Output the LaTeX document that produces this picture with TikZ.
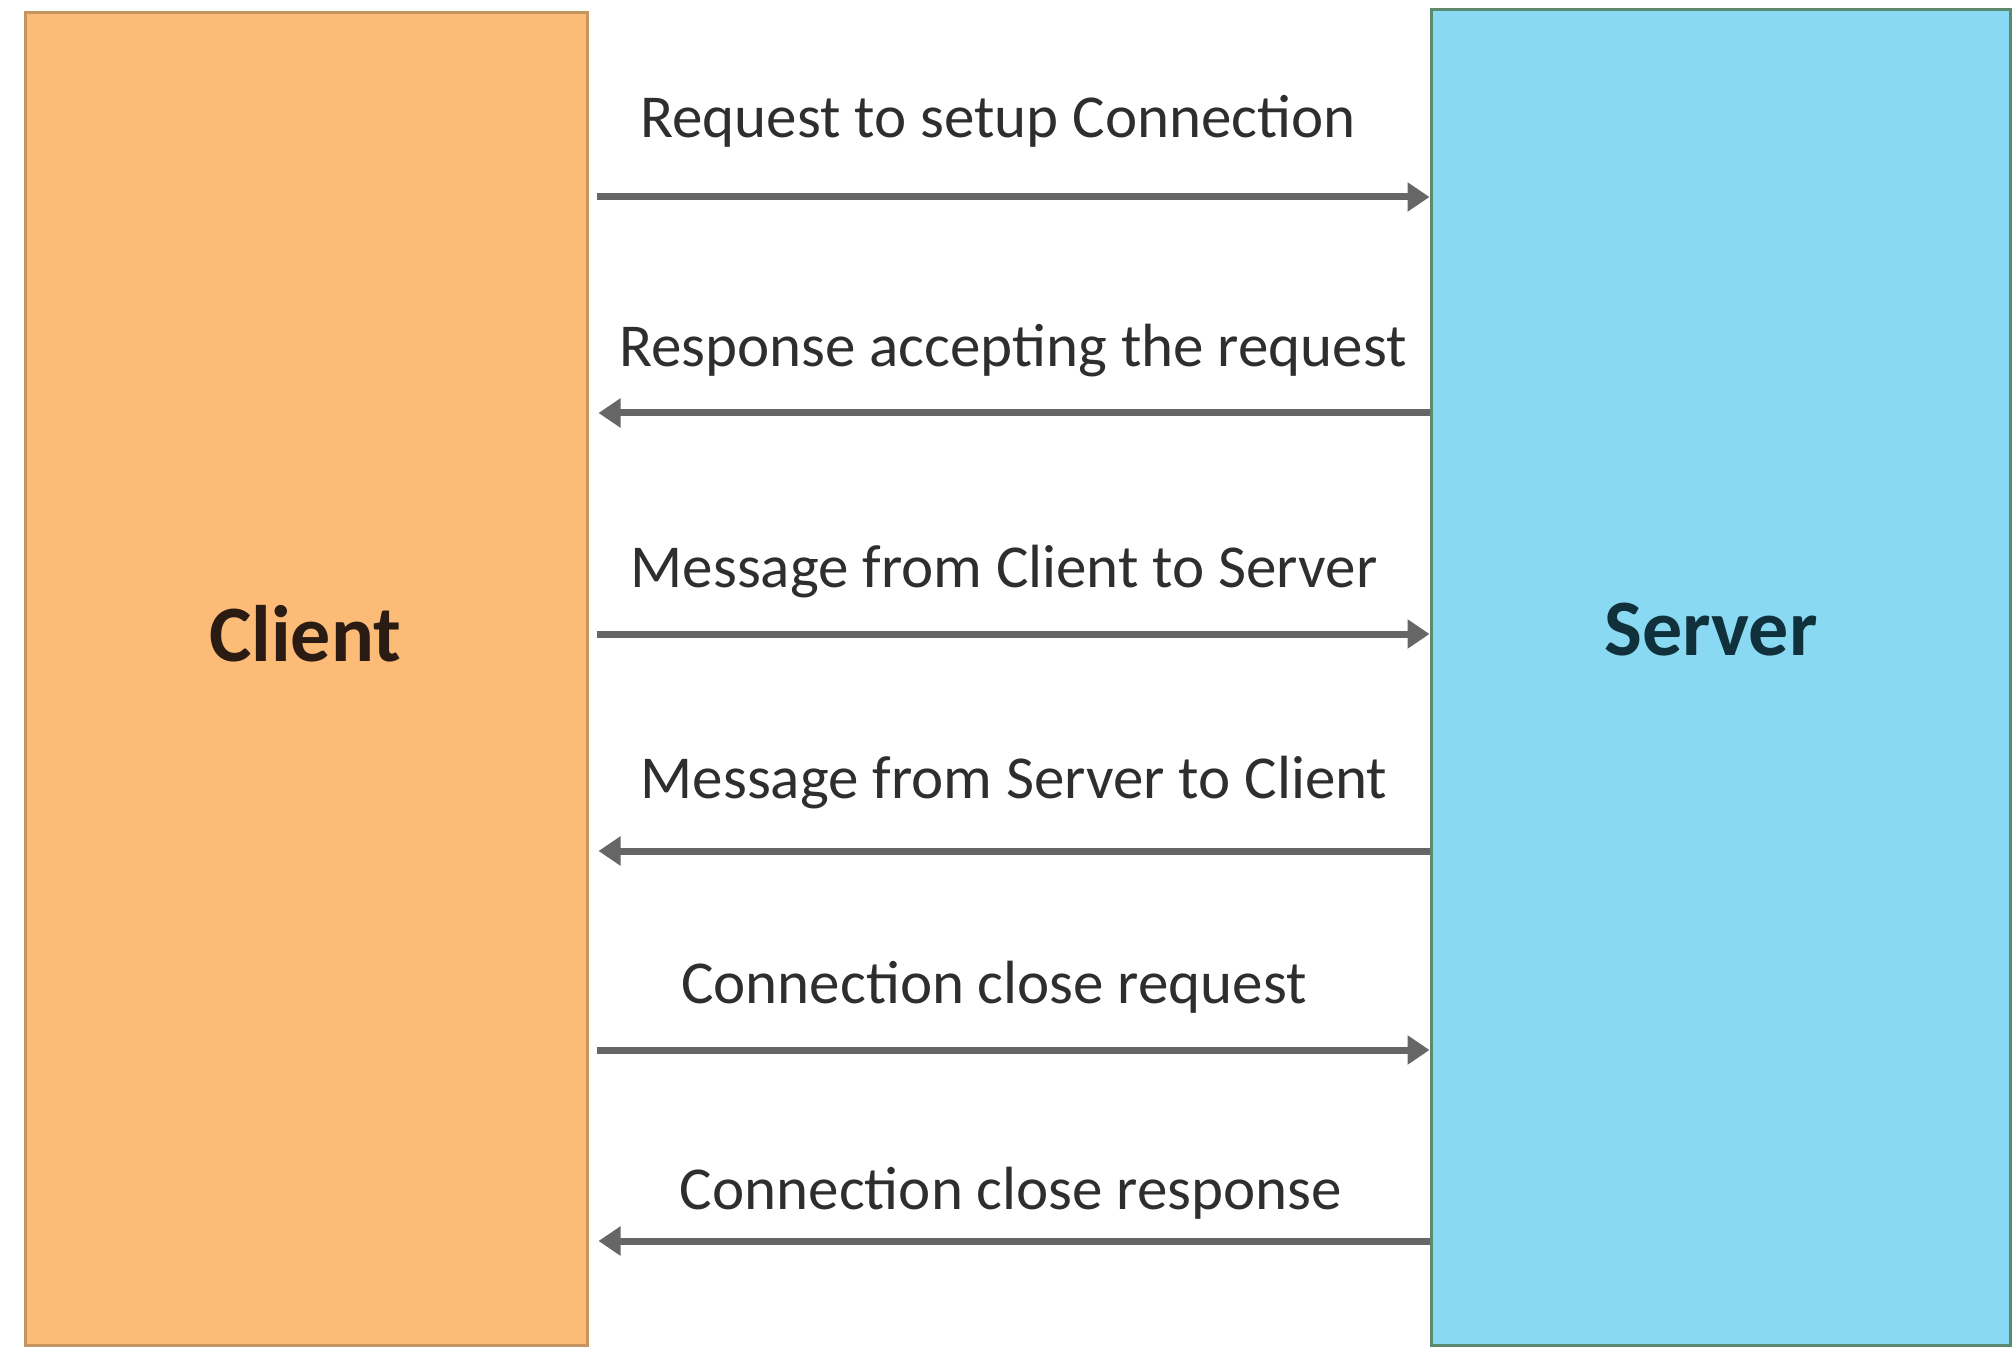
\documentclass[tikz,border=0pt]{standalone}
\usepackage{fontspec}
\setmainfont{Carlito}
\usetikzlibrary{arrows.meta}
\definecolor{cfill}{HTML}{FCBB77}
\definecolor{cdraw}{HTML}{C4955E}
\definecolor{sfill}{HTML}{8AD9F3}
\definecolor{sdraw}{HTML}{5B8A6E}
\definecolor{arrgray}{HTML}{666666}
\definecolor{txt}{HTML}{2E2E2E}
\definecolor{ctxt}{HTML}{2A1C12}
\definecolor{stxt}{HTML}{10303C}
\begin{document}
\begin{tikzpicture}[x=0.5pt,y=-0.5pt,
  box/.style={draw, line width=1.5pt, inner sep=0pt},
  title/.style={font=\fontsize{40}{46}\selectfont\bfseries},
  msg/.style={draw=arrgray, line width=3.5pt, -{Triangle[length=11pt,width=14pt]}},
  lbl/.style={text=txt, inner sep=0pt, font=\fontsize{30.5}{34}\selectfont}]
\useasboundingbox (0,0) rectangle (2016,1347);
\fill[white] (0,0) rectangle (2016,1347);
\node[box, fill=cfill, draw=cdraw, minimum width=281pt, minimum height=666pt] (client) at (306,679) {};
\node[box, fill=sfill, draw=sdraw, minimum width=289.5pt, minimum height=667.5pt] (server) at (1720.5,677.5) {};
\node[title, text=ctxt] (clab) at (305,634) {Client};
\node[title, text=stxt] (slab) at (1711,630) {Server};
\foreach \n/\y in {1/197,2/413,3/634,4/851,5/1050,6/1241}{\coordinate (y\n) at (0,\y);}
\draw[msg] ([xshift=4pt]client.east |- y1) -- (server.west |- y1);
\draw[msg] (server.west |- y2) -- ([xshift=5pt]client.east |- y2);
\draw[msg] ([xshift=4pt]client.east |- y3) -- (server.west |- y3);
\draw[msg] (server.west |- y4) -- ([xshift=5pt]client.east |- y4);
\draw[msg] ([xshift=4pt]client.east |- y5) -- (server.west |- y5);
\draw[msg] (server.west |- y6) -- ([xshift=5pt]client.east |- y6);
\node[lbl] (l1) at (998,121) {Request to setup Connection};
\node[lbl] (l2) at (1013,351) {Response accepting the request};
\node[lbl] (l3) at (1004,572) {Message from Client to Server};
\node[lbl] (l4) at (1014,783) {Message from Server to Client};
\node[lbl] (l5) at (994,987) {Connection close request};
\node[lbl] (l6) at (1011,1193) {Connection close response};
\end{tikzpicture}
\end{document}
